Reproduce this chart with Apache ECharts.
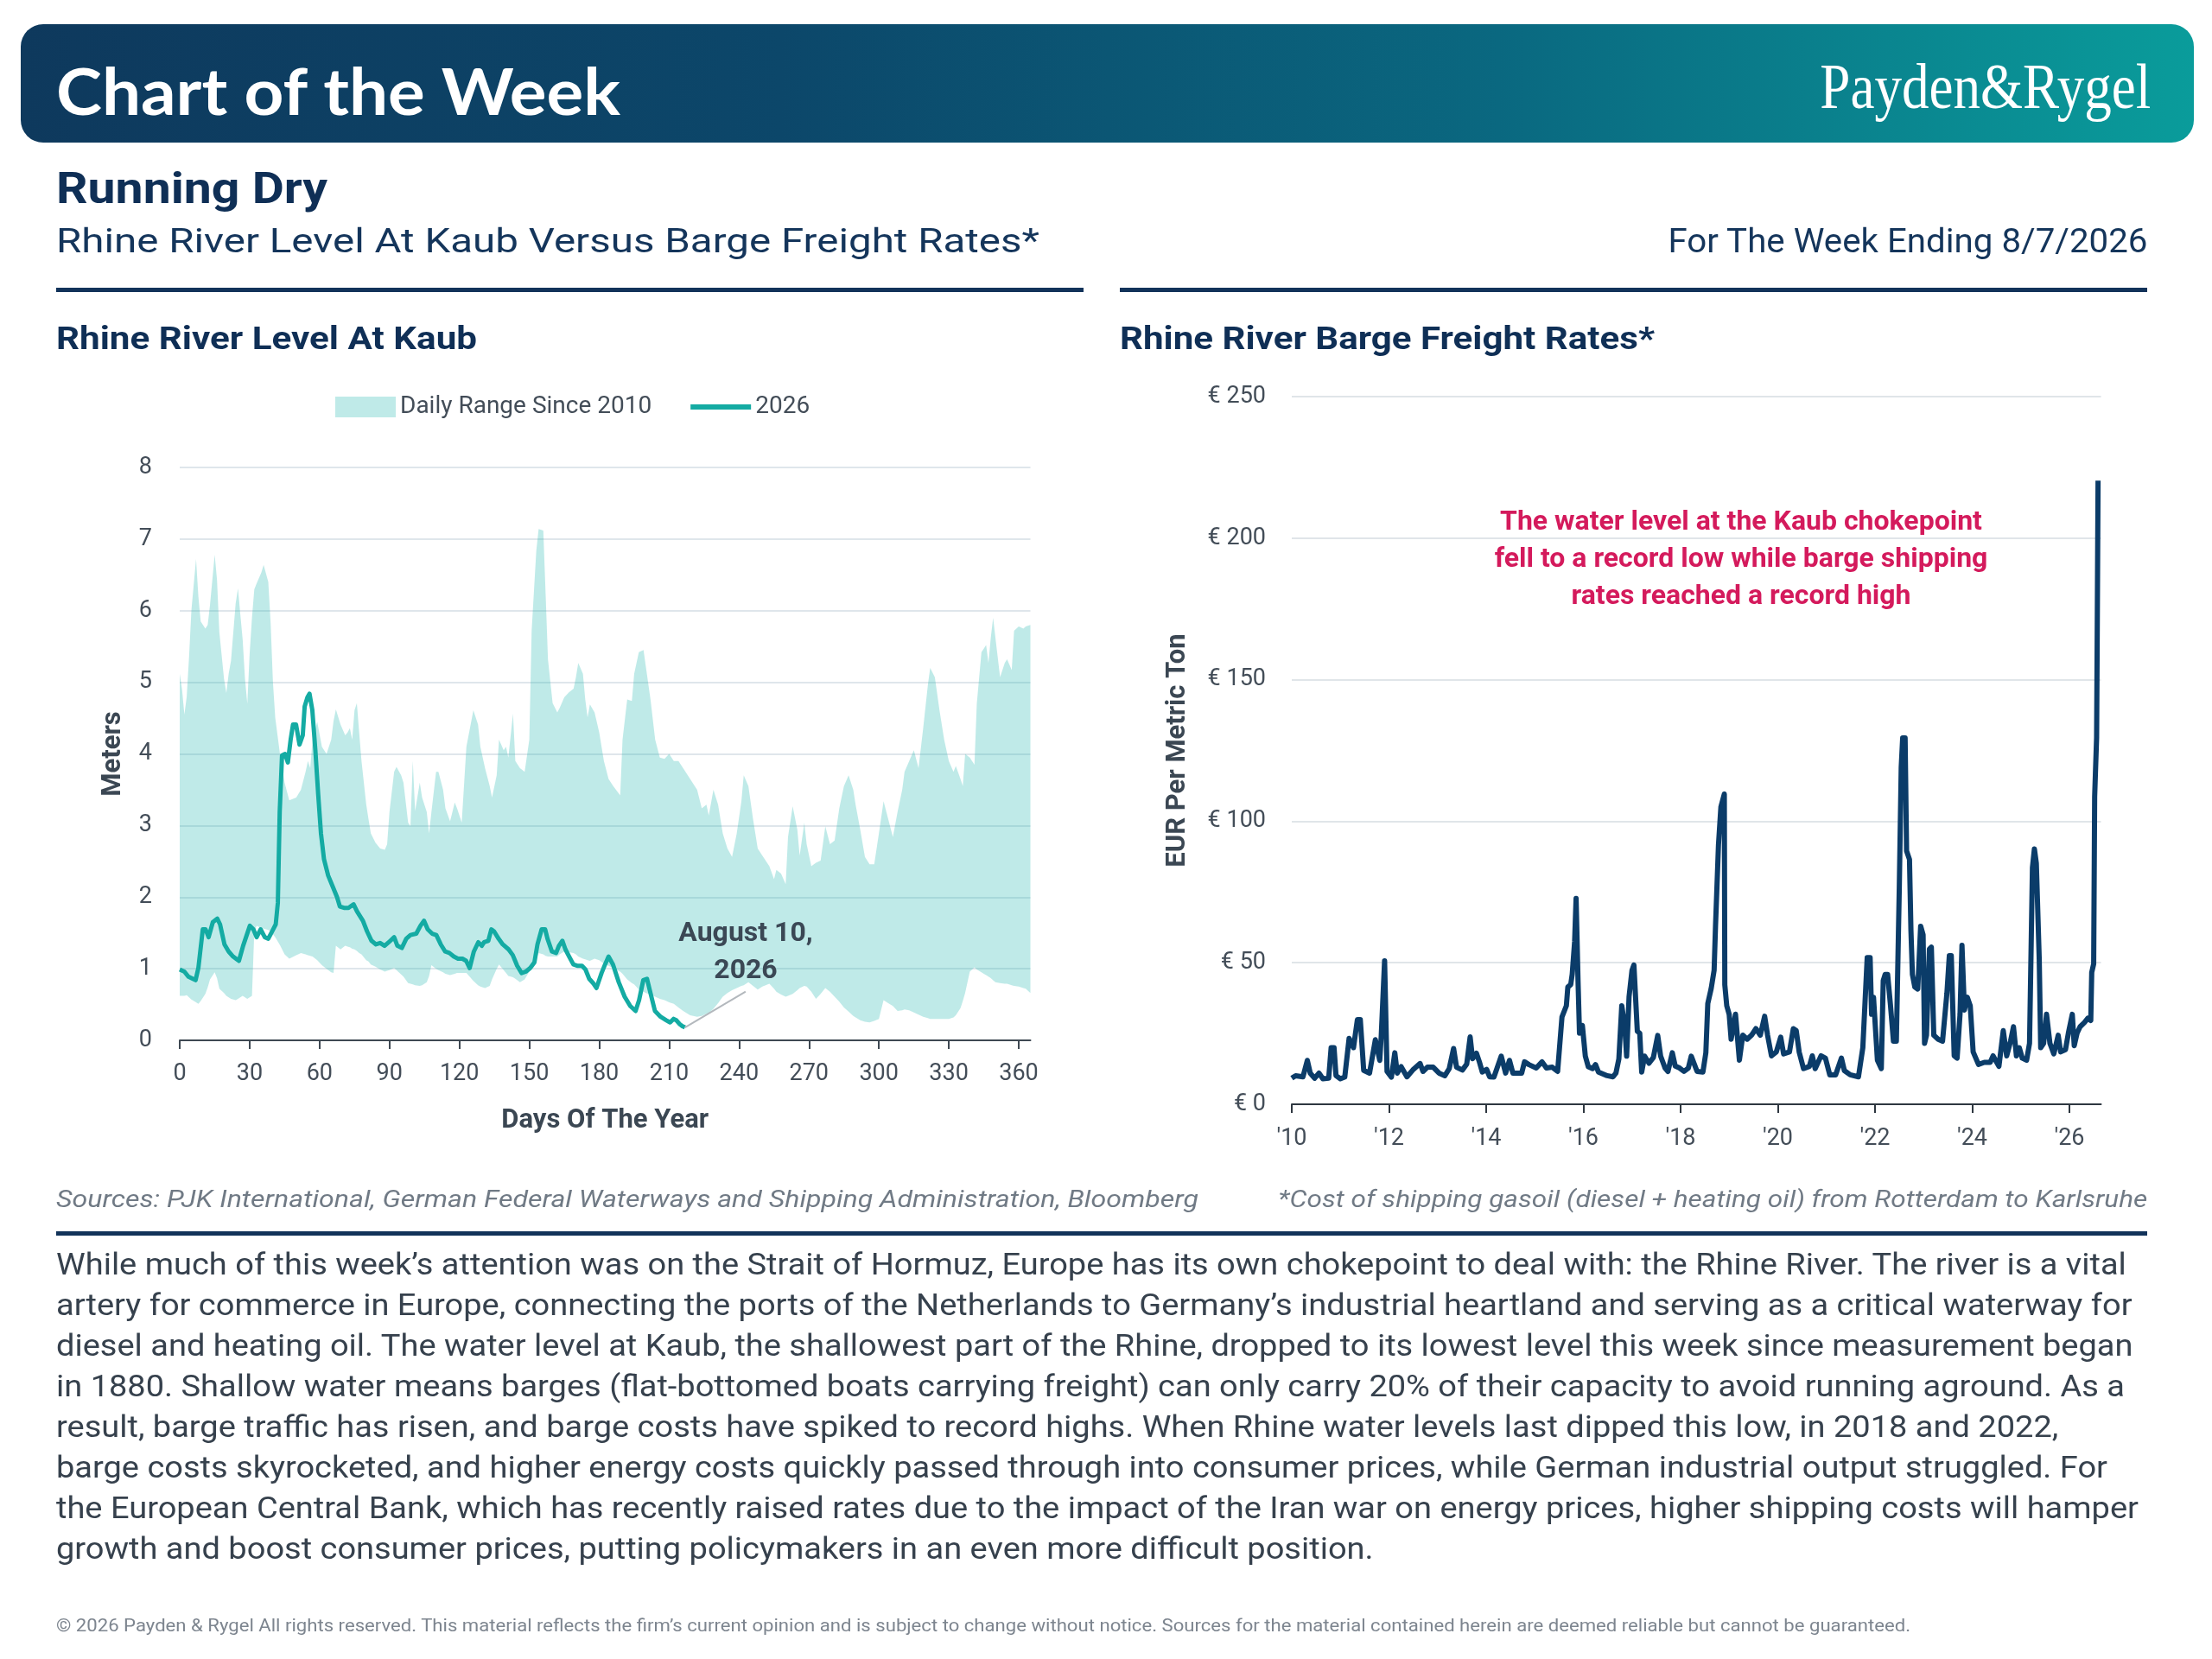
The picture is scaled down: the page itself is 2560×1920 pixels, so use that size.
<!DOCTYPE html>
<html lang="en">
<head>
<meta charset="UTF-8">
<title>Running Dry</title>
<style>
  html, body { margin: 0; padding: 0; background: #fff; }
  body { width: 2560px; height: 1920px; position: relative; overflow: hidden; font-family: Roboto, "Noto Sans", sans-serif; }
  #chart { position: absolute; left: 0; top: 0; width: 2560px; height: 1920px; }
  .t { position: absolute; line-height: 1; white-space: nowrap; }
  #bar { position: absolute; left: 24px; top: 28px; width: 2515px; height: 137px; border-radius: 26px;
         background: linear-gradient(90deg, #0e395d 0%, #0c476a 35%, #0a6880 68%, #0a9c9b 100%); }
  .rule { position: absolute; height: 5px; background: #12335a; }
  #para { left: 65px; top: 1440px; font-size: 35px; line-height: 47px; color: #36414d; }
</style>
</head>
<body>
<div id="chart"></div>

<div id="bar"></div>
<div class="t" data-w="653" style="left:65px;top:60px;font:700 74px Lato, sans-serif;color:#fff;">Chart of the Week</div>
<div class="t" data-w="383" data-o="r" style="right:71px;top:57px;font:400 75px 'Liberation Serif', serif;color:#fff;">Payden&amp;Rygel</div>

<div class="t" data-w="314" style="left:65px;top:193px;font-size:50px;font-weight:700;color:#0f2f56;">Running Dry</div>
<div class="t" data-w="1138" style="left:65px;top:260px;font-size:39px;color:#14355b;">Rhine River Level At Kaub Versus Barge Freight Rates*</div>
<div class="t" data-w="555" data-o="r" style="right:75px;top:260px;font-size:39px;color:#14355b;">For The Week Ending 8/7/2026</div>
<div class="rule" style="left:65px;top:333px;width:1189px;"></div>
<div class="rule" style="left:1296px;top:333px;width:1189px;"></div>

<div class="t" data-w="487" style="left:65px;top:373px;font-size:37px;font-weight:700;color:#0f2f56;">Rhine River Level At Kaub</div>
<div class="t" data-w="619" style="left:1296px;top:373px;font-size:37px;font-weight:700;color:#0f2f56;">Rhine River Barge Freight Rates*</div>

<div class="t" data-w="1322" style="left:65px;top:1374px;font-size:28px;font-style:italic;color:#707a85;">Sources: PJK International, German Federal Waterways and Shipping Administration, Bloomberg</div>
<div class="t" data-w="1006" data-o="r" style="right:75px;top:1374px;font-size:28px;font-style:italic;color:#707a85;">*Cost of shipping gasoil (diesel + heating oil) from Rotterdam to Karlsruhe</div>
<div class="rule" style="left:65px;top:1425px;width:2420px;"></div>

<div class="t" id="para" data-w="2410">
  <div>While much of this week’s attention was on the Strait of Hormuz, Europe has its own chokepoint to deal with: the Rhine River. The river is a vital</div>
  <div>artery for commerce in Europe, connecting the ports of the Netherlands to Germany’s industrial heartland and serving as a critical waterway for</div>
  <div>diesel and heating oil. The water level at Kaub, the shallowest part of the Rhine, dropped to its lowest level this week since measurement began</div>
  <div>in 1880. Shallow water means barges (flat-bottomed boats carrying freight) can only carry 20% of their capacity to avoid running aground. As a</div>
  <div>result, barge traffic has risen, and barge costs have spiked to record highs. When Rhine water levels last dipped this low, in 2018 and 2022,</div>
  <div>barge costs skyrocketed, and higher energy costs quickly passed through into consumer prices, while German industrial output struggled. For</div>
  <div>the European Central Bank, which has recently raised rates due to the impact of the Iran war on energy prices, higher shipping costs will hamper</div>
  <div>growth and boost consumer prices, putting policymakers in an even more difficult position.</div>
</div>

<div class="t" data-w="2146" style="left:65px;top:1871px;font-size:20px;color:#7d858f;">© 2026 Payden &amp; Rygel All rights reserved. This material reflects the firm’s current opinion and is subject to change without notice. Sources for the material contained herein are deemed reliable but cannot be guaranteed.</div>

<script src="https://cdn.jsdelivr.net/npm/echarts@6.0.0/dist/echarts.min.js"></script>
<script>
// ---- left chart: Rhine level at Kaub (metres) ----
var dayTicks = [0, 30, 60, 90, 120, 150, 180, 210, 240, 270, 300, 330, 360];

// daily range since 2010 (low / high per day of year)
var bandDays = [0,1,2,3,4,5,7,8,9,11,12,13,15,16,17,19,20,21,22,24,25,26,27,28,29,30,31,32,33,35,36,38,39,40,41,43,45,47,50,52,54,55,56,57,59,61,63,65,66,67,69,71,72,73,74,75,76,77,78,80,81,82,84,86,88,89,90,92,93,95,96,98,99,100,101,103,104,106,107,108,110,111,113,114,116,117,118,119,121,123,126,128,129,131,133,134,136,137,139,140,141,143,144,146,148,150,151,153,154,156,157,158,160,162,163,165,167,169,170,171,173,174,175,176,178,180,182,184,186,189,190,192,194,195,197,199,200,202,204,206,208,210,212,214,216,219,222,224,226,227,229,231,233,235,237,239,241,242,244,246,248,250,253,255,256,258,260,261,263,265,266,268,269,271,273,275,277,279,281,283,285,287,289,290,292,294,296,298,300,302,304,306,308,310,311,313,315,317,319,321,322,324,326,328,330,332,333,335,336,337,339,341,342,344,345,346,347,348,349,350,352,354,355,357,358,360,362,363,365];
var bandLow = [0.62,0.62,0.62,0.63,0.6,0.57,0.53,0.51,0.55,0.65,0.74,0.85,0.95,0.87,0.72,0.66,0.62,0.6,0.58,0.56,0.58,0.6,0.62,0.6,0.58,0.6,0.62,1.52,1.6,1.57,1.56,1.54,1.52,1.48,1.44,1.33,1.2,1.14,1.19,1.22,1.2,1.19,1.18,1.17,1.12,1.05,1.0,0.95,0.94,1.32,1.27,1.32,1.31,1.3,1.28,1.27,1.25,1.22,1.2,1.12,1.1,1.06,1.03,0.99,0.96,0.97,0.98,1.01,0.98,0.92,0.89,0.8,0.79,0.78,0.77,0.76,0.77,0.81,0.9,1.05,1.0,0.98,0.95,0.93,0.91,0.92,0.93,0.94,0.94,0.94,0.83,0.77,0.75,0.73,0.76,0.85,1.0,1.06,0.98,0.94,0.9,0.88,0.86,0.81,0.85,0.96,1.02,1.15,1.22,1.2,1.18,1.17,1.17,1.17,1.2,1.24,1.23,1.22,1.2,1.17,1.14,1.13,1.12,1.11,1.14,1.12,1.07,1.04,1.01,0.96,0.93,0.85,0.8,0.78,0.71,0.68,0.66,0.64,0.61,0.58,0.56,0.53,0.51,0.46,0.41,0.35,0.33,0.34,0.37,0.38,0.44,0.52,0.61,0.66,0.7,0.73,0.76,0.77,0.81,0.76,0.71,0.75,0.79,0.72,0.68,0.64,0.61,0.62,0.65,0.7,0.73,0.76,0.75,0.68,0.58,0.65,0.73,0.68,0.61,0.54,0.46,0.4,0.34,0.32,0.28,0.26,0.25,0.27,0.3,0.56,0.52,0.48,0.41,0.42,0.43,0.42,0.39,0.36,0.33,0.31,0.3,0.3,0.3,0.3,0.3,0.32,0.35,0.45,0.55,0.66,0.96,1.02,0.99,0.95,0.93,0.91,0.89,0.87,0.84,0.81,0.8,0.79,0.79,0.77,0.76,0.75,0.73,0.72,0.66];
var bandHigh = [5.12,4.9,4.55,4.8,5.35,6.0,6.72,6.2,5.85,5.75,5.8,6.08,6.78,6.43,5.7,5.05,4.85,5.12,5.3,6.1,6.31,5.95,5.6,5.05,4.7,5.4,5.9,6.3,6.38,6.53,6.64,6.4,5.83,5.0,4.5,4.0,3.6,3.35,3.39,3.5,3.75,3.9,3.8,4.2,4.45,4.1,4.0,4.2,4.46,4.62,4.41,4.26,4.3,4.36,4.2,4.61,4.71,4.3,3.9,3.3,3.09,2.89,2.76,2.68,2.66,2.74,3.19,3.75,3.82,3.7,3.6,3.04,2.99,3.9,3.2,3.6,3.39,3.19,2.89,3.19,3.75,3.75,3.5,3.24,3.06,3.19,3.32,3.24,3.04,4.1,4.61,4.41,4.1,3.8,3.55,3.39,3.7,4.2,4.05,4.1,3.95,4.56,3.9,3.8,3.75,4.2,5.72,6.84,7.14,7.12,6.23,5.32,4.71,4.58,4.64,4.79,4.86,4.91,5.07,5.27,5.12,4.76,4.51,4.69,4.58,4.3,3.9,3.65,3.55,3.42,4.2,4.76,4.74,5.12,5.42,5.45,5.22,4.76,4.2,3.95,3.93,4.0,3.9,3.9,3.8,3.65,3.5,3.24,3.29,3.14,3.5,3.29,2.89,2.68,2.56,2.89,3.34,3.7,3.55,3.09,2.68,2.58,2.43,2.25,2.38,2.33,2.18,2.84,3.27,2.94,2.58,3.04,2.74,2.43,2.48,2.51,2.99,2.74,2.79,3.24,3.55,3.7,3.5,3.29,2.94,2.56,2.46,2.46,2.89,3.34,3.09,2.84,3.19,3.5,3.75,3.9,4.05,3.8,4.36,4.96,5.2,5.07,4.61,4.2,3.9,3.75,3.83,3.65,3.55,4.0,3.95,3.85,4.7,5.42,5.47,5.52,5.27,5.62,5.9,5.62,5.07,5.27,5.32,5.17,5.72,5.78,5.75,5.78,5.8];

// 2026 daily level
var levelDays = [0,2,3.7,5.6,6.8,8,9.9,11.1,12.4,14.2,16.1,17.3,19.2,21,22.9,25.4,27.2,30.1,31.6,33,34.7,36.5,38,39.6,41.2,42.1,42.9,43.9,45.2,46.4,47.6,48.6,49.9,51.4,52.8,53.6,54.8,55.7,56.9,58.2,59.4,60.6,61.9,63.7,65.6,67.5,68.7,70.5,72.4,74.6,76.1,78.6,80.4,82.3,84.2,86,87.9,89.7,92,93.4,95.3,97.2,99,101.5,103.3,104.8,106.4,108.3,110.1,112,113.9,115.7,117.6,119.4,121.3,122.9,124.4,126.2,128.1,129.6,130.6,132.4,133.7,134.9,136.8,138.6,141.1,142.9,144.8,146.7,148.5,150.4,152.2,153.5,155.3,156.8,157.8,159.7,161.5,162.7,164.2,165.5,167.1,168.9,170.8,172.6,174.1,175.7,177.6,178.8,181,182.5,184,185.9,188.4,190.9,193.3,195.6,197.1,198.9,200.5,202,203.9,206.3,208.8,210.4,211.9,213.1,214.4,215.6,216.8];
var level2026 = [0.99,0.96,0.89,0.86,0.84,1.01,1.55,1.55,1.44,1.65,1.7,1.62,1.34,1.24,1.17,1.11,1.32,1.6,1.55,1.44,1.55,1.44,1.42,1.52,1.62,1.92,3.19,3.98,4.0,3.88,4.2,4.41,4.41,4.13,4.26,4.66,4.79,4.84,4.61,4.05,3.44,2.89,2.53,2.3,2.15,2.0,1.87,1.85,1.85,1.9,1.8,1.67,1.52,1.39,1.34,1.36,1.32,1.37,1.44,1.32,1.29,1.42,1.47,1.49,1.6,1.67,1.55,1.49,1.47,1.34,1.24,1.22,1.17,1.14,1.14,1.11,1.01,1.24,1.37,1.32,1.37,1.39,1.55,1.52,1.42,1.34,1.27,1.19,1.04,0.94,0.96,1.01,1.09,1.34,1.55,1.55,1.42,1.24,1.22,1.32,1.39,1.27,1.17,1.06,1.04,1.04,0.99,0.86,0.79,0.73,0.94,1.06,1.17,1.06,0.81,0.61,0.48,0.41,0.56,0.84,0.86,0.66,0.41,0.33,0.28,0.25,0.3,0.28,0.23,0.2,0.18];
var calloutEnd = [242.8, 0.68];   // where the "August 10, 2026" leader line stops

// ---- right chart: barge freight rates (EUR per metric ton) ----
var yearTicks = [2010, 2012, 2014, 2016, 2018, 2020, 2022, 2024, 2026];
var rateYears = [2010.00,2010.08,2010.23,2010.32,2010.38,2010.47,2010.56,2010.64,2010.76,2010.81,2010.87,2010.91,2011.00,2011.09,2011.18,2011.27,2011.35,2011.41,2011.48,2011.60,2011.72,2011.81,2011.84,2011.91,2011.96,2012.05,2012.12,2012.17,2012.25,2012.37,2012.49,2012.64,2012.70,2012.79,2012.91,2013.03,2013.15,2013.24,2013.33,2013.39,2013.51,2013.60,2013.67,2013.72,2013.80,2013.86,2013.92,2014.01,2014.07,2014.16,2014.31,2014.40,2014.48,2014.55,2014.73,2014.79,2014.88,2015.03,2015.15,2015.24,2015.36,2015.47,2015.56,2015.65,2015.68,2015.74,2015.77,2015.82,2015.85,2015.89,2015.92,2015.98,2016.04,2016.10,2016.19,2016.25,2016.31,2016.49,2016.61,2016.67,2016.73,2016.79,2016.85,2016.89,2016.94,2017.00,2017.04,2017.07,2017.11,2017.16,2017.20,2017.26,2017.35,2017.44,2017.53,2017.59,2017.68,2017.74,2017.83,2017.89,2017.98,2018.07,2018.16,2018.22,2018.34,2018.46,2018.52,2018.56,2018.63,2018.69,2018.72,2018.78,2018.83,2018.90,
  2018.91,2018.95,2019.00,2019.04,2019.13,2019.21,2019.28,2019.37,2019.46,2019.55,2019.64,2019.73,2019.79,2019.87,2019.97,2020.06,2020.12,2020.24,2020.32,2020.38,2020.44,2020.53,2020.65,2020.71,2020.77,2020.89,2020.98,2021.07,2021.19,2021.31,2021.37,2021.49,2021.66,2021.75,2021.84,2021.90,2021.93,2021.97,2022.05,2022.13,2022.17,2022.21,2022.26,2022.32,2022.38,2022.44,2022.50,2022.54,2022.57,2022.62,2022.65,2022.71,2022.74,2022.77,2022.82,2022.88,2022.94,2022.99,2023.02,2023.06,2023.12,2023.16,2023.21,2023.30,2023.39,2023.48,2023.53,2023.57,2023.63,2023.69,2023.75,2023.79,2023.84,2023.90,2023.96,2024.02,2024.13,2024.25,2024.37,2024.43,2024.55,2024.64,2024.71,2024.79,2024.85,2024.91,2024.97,2025.03,2025.12,2025.18,2025.24,2025.28,2025.32,2025.38,2025.41,2025.47,2025.53,2025.60,2025.68,2025.77,2025.82,2025.92,2025.98,2026.06,2026.10,2026.16,2026.22,2026.31,2026.38,2026.44,2026.46,2026.50,2026.52,2026.56,2026.57,2026.59];
var rateValues = [9.2,10.1,9.7,15.5,11,9.2,11,9,9.2,20,20,10.1,9,9.6,23.3,20,29.9,29.9,12,11,22.8,15.5,23.8,50.7,11.6,9.6,18.2,11,13.3,9.7,12.1,14.4,11.6,13.1,13.1,11,10.1,12.6,19.7,13.1,12.1,14.2,23.8,16.1,18,15,11.4,12.3,9.7,9.6,17,11,15.5,11,11,15,14,12.8,15,12.8,13.1,11.6,30.9,34.8,41.4,42.3,45.9,57.4,72.7,43.6,25.1,27.8,17,13.3,12.6,14,11.4,10.1,9.7,11,16,34.8,27.8,17,38,47.3,49.2,49.7,25.8,25.1,11.4,17,14.5,16.5,24.3,17,12.8,11.6,18.2,13.5,12.8,11.6,12.8,17,11.6,11.4,18.2,35.6,40.9,47.3,63.5,91.7,105.1,109.6,
  42.2,34.8,31.8,23,31.8,15.6,24.4,23,24.4,26.7,24.4,31.1,24.4,17.1,18.5,23.7,17.8,18.5,26.7,26,18.5,12.6,13.4,17.1,12.6,17.1,16.3,10.4,10.4,16.3,11.9,10.4,9.7,20,51.8,51.8,31.8,37.8,15.6,12.6,43.7,45.9,45.9,34.8,22.3,22.3,76.2,119.1,129.4,129.4,89.5,86.5,61.4,45.9,41.4,40.7,62.9,59.9,21.5,24.4,54.8,55.5,24.4,23,22.3,39.2,52.5,52.5,17.1,16.3,31.8,56.2,33.3,37.8,34.8,18.5,14.1,14.8,14.8,17.1,13.4,26,17.1,22.3,27.4,17.1,20,16.3,15.6,21.5,83.6,90.2,85.1,51.1,20,21.5,31.8,21.5,17.8,24.4,18.5,19.3,25.2,31.8,20.7,25.2,27.4,28.9,30.4,29.6,46.6,49.6,108.7,129.4,157.5,220.3];

var axisText = '#434d58';
var nameText = '#3b4753';
var font = 'Roboto';
var bandColor = '#bfeae8';

var line2026 = levelDays.map(function (d, i) { return [d, level2026[i]]; });
var rates = rateYears.map(function (y, i) { return [y, rateValues[i]]; });
var lastPoint = line2026[line2026.length - 1];

// band polygon: along the highs, back along the lows
function renderBand(params, api) {
    var pts = [];
    for (var i = 0; i < bandDays.length; i++) pts.push(api.coord([bandDays[i], bandHigh[i]]));
    for (var j = bandDays.length - 1; j >= 0; j--) pts.push(api.coord([bandDays[j], bandLow[j]]));
    return { type: 'polygon', shape: { points: pts }, style: { fill: 'rgba(42,185,178,0.3)' } };
}

var myChart = echarts.init(document.getElementById('chart'));

var option = {
    animation: false,
    textStyle: { fontFamily: font },
    grid: [
        { left: 208, top: 541, width: 984.5, height: 663 },
        { left: 1495, top: 459, width: 936.5, height: 819 }
    ],
    legend: {
        left: 383, top: 452,
        itemWidth: 70, itemHeight: 24, itemGap: 45,
        textStyle: { fontSize: 28, color: axisText, fontFamily: font },
        data: [
            { name: 'Daily Range Since 2010', icon: 'rect', itemStyle: { color: bandColor } },
            { name: '2026', icon: 'path://M0,0M0,9L70,9L70,15L0,15ZM70,24' }
        ]
    },
    xAxis: [{
        type: 'value', gridIndex: 0, min: 0, max: 365,
        axisLine: { show: true, lineStyle: { color: '#3e4852', width: 2 } },
        axisTick: { show: true, length: 10, lineStyle: { color: '#3e4852', width: 2 }, customValues: dayTicks },
        axisLabel: { customValues: dayTicks, fontSize: 27, color: axisText, margin: 26 },
        splitLine: { show: false },
        name: 'Days Of The Year', nameLocation: 'middle', nameGap: 78,
        nameTextStyle: { fontSize: 31, fontWeight: 'bold', color: nameText }
    }, {
        type: 'value', gridIndex: 1, min: 2010, max: 2026.65,
        axisLine: { show: true, lineStyle: { color: '#2e3740', width: 2 } },
        axisTick: { show: true, length: 10, lineStyle: { color: '#2e3740', width: 2 }, customValues: yearTicks },
        axisLabel: {
            customValues: yearTicks, fontSize: 27, color: axisText, margin: 27,
            formatter: function (v) { return '\'' + String(v).slice(2); }
        },
        splitLine: { show: false }
    }],
    yAxis: [{
        type: 'value', gridIndex: 0, min: 0, max: 8, interval: 1,
        axisLine: { show: false }, axisTick: { show: false },
        axisLabel: { fontSize: 27, color: axisText, margin: 32 },
        splitLine: { lineStyle: { color: '#dfe6eb', width: 2 } },
        name: 'Meters', nameLocation: 'middle', nameGap: 61, nameRotate: 90,
        nameTextStyle: { fontSize: 31, fontWeight: 'bold', color: nameText }
    }, {
        type: 'value', gridIndex: 1, min: 0, max: 250, interval: 50,
        axisLine: { show: false }, axisTick: { show: false },
        axisLabel: { fontSize: 27, color: axisText, margin: 30, formatter: function (v) { return '€ ' + v; } },
        splitLine: { lineStyle: { color: '#e0e5e9', width: 2 } },
        name: 'EUR Per Metric Ton', nameLocation: 'middle', nameGap: 116, nameRotate: 90,
        nameTextStyle: { fontSize: 31, fontWeight: 'bold', color: nameText }
    }],
    series: [{
        name: 'Daily Range Since 2010', type: 'custom', xAxisIndex: 0, yAxisIndex: 0,
        data: [[bandDays[0], bandLow[0]]], silent: true, z: 1,
        itemStyle: { color: bandColor },
        renderItem: renderBand
    }, {
        name: '2026', type: 'line', xAxisIndex: 0, yAxisIndex: 0,
        data: line2026, symbol: 'none',
        itemStyle: { color: '#14aba3' },
        lineStyle: { color: '#14aba3', width: 5, join: 'round' }, z: 3,
        markLine: {
            silent: true, symbol: 'none', animation: false,
            label: { show: false },
            lineStyle: { color: '#b3b8bd', width: 2, type: 'solid' },
            data: [[{ coord: lastPoint }, { coord: calloutEnd }]]
        }
    }, {
        name: 'Freight', type: 'line', xAxisIndex: 1, yAxisIndex: 1,
        data: rates, symbol: 'none',
        itemStyle: { color: '#0b3c69' },
        lineStyle: { color: '#0b3c69', width: 6, join: 'round' }, z: 3
    }],
    graphic: [{
        type: 'text', x: 863, y: 1102, z: 10,
        style: {
            text: 'August 10,\n2026', font: 'bold 32px Roboto', fill: '#3b4855',
            align: 'center', verticalAlign: 'middle', textAlign: 'center', textVerticalAlign: 'middle', lineHeight: 43
        }
    }, {
        type: 'text', x: 2015, y: 648, z: 10,
        style: {
            text: 'The water level at the Kaub chokepoint\nfell to a record low while barge shipping\nrates reached a record high',
            font: 'bold 32px Roboto', fill: '#d41a5c',
            align: 'center', verticalAlign: 'middle', textAlign: 'center', textVerticalAlign: 'middle', lineHeight: 43
        }
    }]
};

myChart.setOption(option);

// squeeze/stretch the page texts to the widths they have in the original layout
function fitTexts() {
    document.querySelectorAll('[data-w]').forEach(function (el) {
        el.style.transform = 'none';
        var w = el.getBoundingClientRect().width;
        var s = +el.dataset.w / w;
        el.style.transformOrigin = el.dataset.o === 'r' ? 'right center' : 'left center';
        el.style.transform = 'scaleX(' + s.toFixed(4) + ')';
    });
}
fitTexts();
if (document.fonts && document.fonts.ready) {
    document.fonts.ready.then(fitTexts);
}
</script>
</body>
</html>
